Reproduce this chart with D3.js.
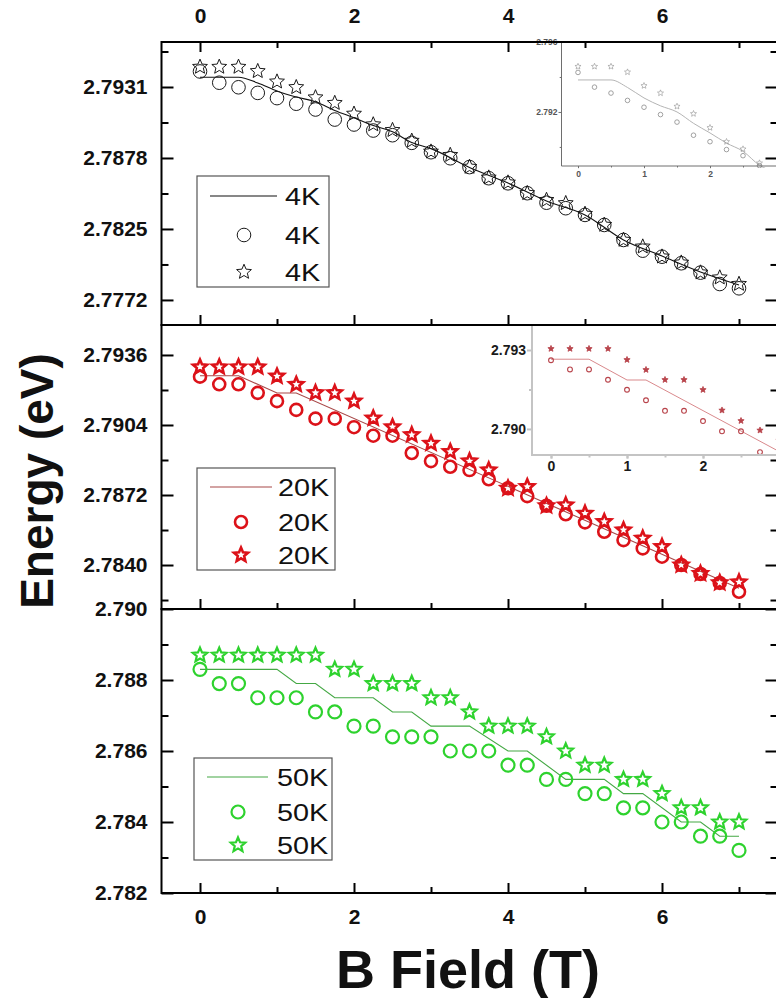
<!DOCTYPE html>
<html><head><meta charset="utf-8">
<script src="https://cdn.jsdelivr.net/npm/d3@7"></script>
<style>body{margin:0;background:#fff}svg{display:block}text{font-family:"Liberation Sans",Arial,sans-serif}</style>
</head><body><svg id="c" width="776" height="998"></svg>
<script>
// ---------------- DATA ----------------
const fieldT = [0,0.25,0.5,0.75,1,1.25,1.5,1.75,2,2.25,2.5,2.75,3,3.25,3.5,3.75,4,4.25,4.5,4.75,5,5.25,5.5,5.75,6,6.25,6.5,6.75,7];

const e4KCircle = [2.79426,2.79342,2.79308,2.79266,2.79227,2.79185,2.79142,2.79067,2.79030,2.78985,2.78950,2.78893,2.78823,2.78778,2.78712,2.78629,2.78591,2.78517,2.78446,2.78405,2.78355,2.78280,2.78168,2.78088,2.78043,2.77994,2.77924,2.77839,2.77807];
const e4KStar   = [2.79460,2.79460,2.79460,2.79428,2.79350,2.79308,2.79232,2.79190,2.79110,2.79030,2.78988,2.78908,2.78827,2.78802,2.78713,2.78633,2.78596,2.78517,2.78466,2.78442,2.78362,2.78280,2.78168,2.78118,2.78043,2.77998,2.77924,2.77887,2.77839];
const fit4KB = [0,0.5,0.75,1,1.25,1.5,1.75,2,2.25,2.5,2.75,3,3.5,4,4.5,5,5.5,6,6.5,7];
const fit4KE = [2.79383,2.79383,2.79340,2.79280,2.79235,2.79200,2.79135,2.79080,2.79022,2.78975,2.78895,2.78850,2.78709,2.78593,2.78459,2.78355,2.78168,2.78048,2.77929,2.77832];

const e20KCircle = [2.79261,2.79226,2.79226,2.79187,2.79149,2.79109,2.79069,2.79069,2.79030,2.78991,2.78991,2.78912,2.78875,2.78849,2.78834,2.78792,2.78751,2.78715,2.78671,2.78632,2.78595,2.78552,2.78514,2.78476,2.78438,2.78400,2.78359,2.78318,2.78278];
const e20KStar   = [2.79305,2.79305,2.79305,2.79305,2.79263,2.79225,2.79187,2.79187,2.79149,2.79071,2.79031,2.78995,2.78956,2.78918,2.78875,2.78834,2.78751,2.78758,2.78671,2.78674,2.78636,2.78598,2.78560,2.78522,2.78484,2.78400,2.78361,2.78319,2.78322];
const fit20KB = [0,0.5,1,1.25,7];
const fit20KE = [2.79265,2.79265,2.79186,2.79186,2.78294];

const e50KCircle = [2.7883,2.7879,2.7879,2.7875,2.7875,2.7875,2.7871,2.7871,2.7867,2.7867,2.7864,2.7864,2.7864,2.7860,2.7860,2.7860,2.7856,2.7856,2.7852,2.7852,2.7848,2.7848,2.7844,2.7844,2.7840,2.7840,2.7836,2.7836,2.7832];
const e50KStar   = [2.7887,2.7887,2.7887,2.7887,2.7887,2.7887,2.7887,2.7883,2.7883,2.7879,2.7879,2.7879,2.7875,2.7875,2.7871,2.7867,2.7867,2.7867,2.7864,2.7860,2.7856,2.7856,2.7852,2.7852,2.7848,2.7844,2.7844,2.7840,2.7840];
const fit50KB = [0,1,1.25,1.5,1.75,2.25,2.5,2.75,3,3.5,4,4.25,4.75,5.25,5.5,5.75,6.25,6.5,6.75,7];
const fit50KE = [2.7883,2.7883,2.7879,2.7879,2.7875,2.7875,2.7871,2.7871,2.7867,2.7867,2.7860,2.7860,2.7852,2.7852,2.7848,2.7848,2.7840,2.7840,2.7836,2.7836];

const xMajorTicks = [0,2,4,6];
const xMinorTicks = [1,3,5,7];
const p1Major = [2.7772,2.7825,2.7878,2.7931];
const p1Minor = [2.77985,2.78515,2.79045,2.79575];
const p2Major = [2.7840,2.7872,2.7904,2.7936];
const p2Minor = [2.7824,2.7856,2.7888,2.7920];
const p3Major = [2.782,2.784,2.786,2.788,2.790];
const p3Minor = [2.783,2.785,2.787,2.789];
const inset1Major = [2.792,2.796];
const inset1Minor = [2.790,2.794];
const inset2Major = [2.790,2.793];
const inset2Minor = [2.7915];
const insetXLabelled = [0,1,2];
const insetXMajor = [0,1,2,3];
const insetXMinor = [0.5,1.5,2.5];
const legendLabels = ["4K","20K","50K"];

// ---------------- DRAW ----------------
const svg = d3.select("#c");
const FONT = '"Liberation Sans",Arial,sans-serif';
const x = d3.scaleLinear().domain([-0.5,7.5]).range([161.5,777.5]);

function starPath(R){
  const r=R*0.45; let p='';
  for(let i=0;i<10;i++){const a=-Math.PI/2+i*Math.PI/5;const rr=i%2?r:R;
    p+=(i?'L':'M')+(rr*Math.cos(a)).toFixed(2)+','+(rr*Math.sin(a)).toFixed(2);}
  return p+'Z';
}
const zip=(xs,ys)=>xs.map((v,i)=>[v,ys[i]]);

const panels = [
  {y:d3.scaleLinear().domain([2.77533,2.79646]).range([325,42]), top:42,bottom:325,
   circ:e4KCircle, star:e4KStar, fb:fit4KB, fe:fit4KE, major:p1Major, minor:p1Minor, fmt:d3.format('.4f'),
   col:'#1a1a1a', lineCol:'#111', cr:6.8, cw:1, sr:7.8, sw:1, curve:d3.curveMonotoneX, lab:legendLabels[0],
   leg:{x0:197,y0:176,x1:329,y1:287, ly:196, cy:235, sy:272, l0:210,l1:277, tx:285, cx:244}},
  {y:d3.scaleLinear().domain([2.78199,2.79497]).range([609,325]), top:325,bottom:609,
   circ:e20KCircle, star:e20KStar, fb:fit20KB, fe:fit20KE, major:p2Major, minor:p2Minor, fmt:d3.format('.4f'),
   col:'#dc1219', lineCol:'#a84848', cr:6, cw:2.6, sr:7.4, sw:2.6, curve:d3.curveLinear, lab:legendLabels[1],
   leg:{x0:197,y0:468,x1:335,y1:570, ly:487, cy:522, sy:555, l0:210,l1:272, tx:278, cx:241}},
  {y:d3.scaleLinear().domain([2.782,2.790]).range([893,609]), top:609,bottom:893,
   circ:e50KCircle, star:e50KStar, fb:fit50KB, fe:fit50KE, major:p3Major, minor:p3Minor, fmt:d3.format('.3f'),
   col:'#2ed22e', lineCol:'#44a844', cr:6.5, cw:2.2, sr:7.6, sw:2.2, curve:d3.curveLinear, lab:legendLabels[2],
   leg:{x0:194,y0:758,x1:332,y1:860, ly:777, cy:812, sy:845, l0:207,l1:268, tx:277, cx:238}}
];

const dataLayer = svg.append('g');
panels.forEach(p=>{
  const g=dataLayer.append('g');
  g.append('path').datum(zip(p.fb,p.fe))
    .attr('d',d3.line().x(d=>x(d[0])).y(d=>p.y(d[1])).curve(p.curve))
    .attr('fill','none').attr('stroke',p.lineCol).attr('stroke-width',1.1);
  g.selectAll('circle.m').data(zip(fieldT,p.circ)).join('circle')
    .attr('cx',d=>x(d[0])).attr('cy',d=>p.y(d[1])).attr('r',p.cr)
    .attr('fill','none').attr('stroke',p.col).attr('stroke-width',p.cw);
  g.selectAll('path.s').data(zip(fieldT,p.star)).join('path')
    .attr('transform',d=>`translate(${x(d[0])},${p.y(d[1])})`).attr('d',starPath(p.sr))
    .attr('fill','none').attr('stroke',p.col).attr('stroke-width',p.sw).attr('stroke-linejoin','miter');
  // legend
  const L=p.leg, lg=g.append('g');
  lg.append('rect').attr('x',L.x0).attr('y',L.y0).attr('width',L.x1-L.x0).attr('height',L.y1-L.y0)
    .attr('fill','#fff').attr('stroke','#555').attr('stroke-width',1.2);
  lg.append('line').attr('x1',L.l0).attr('x2',L.l1).attr('y1',L.ly).attr('y2',L.ly).attr('stroke',p.lineCol).attr('stroke-width',1.1);
  lg.append('circle').attr('cx',L.cx).attr('cy',L.cy).attr('r',p.cr).attr('fill','none').attr('stroke',p.col).attr('stroke-width',p.cw);
  lg.append('path').attr('transform',`translate(${L.cx},${L.sy})`).attr('d',starPath(p.sr)).attr('fill','none').attr('stroke',p.col).attr('stroke-width',p.sw);
  [L.ly,L.cy,L.sy].forEach(yy=>lg.append('text').attr('transform',`translate(${L.tx},${yy+8.5}) scale(1.2,1)`).text(p.lab)
    .attr('font-size',24).attr('fill','#111'));
});

// ---------------- INSETS ----------------
function inset(cfg){
  const g=svg.append('g');
  const ix=d3.scaleLinear().domain([-0.25,3.25]).range(cfg.xr);
  const iy=d3.scaleLinear().domain(cfg.yd).range([cfg.bottom,cfg.top]);
  g.append('rect').attr('x',cfg.xr[0]).attr('y',cfg.top).attr('width',800-cfg.xr[0]).attr('height',cfg.bottom-cfg.top).attr('fill','#fff');
  const clip='clip'+cfg.id;
  g.append('clipPath').attr('id',clip).append('rect').attr('x',cfg.xr[0]).attr('y',cfg.top).attr('width',800-cfg.xr[0]).attr('height',cfg.bottom-cfg.top+2);
  const dg=g.append('g').attr('clip-path',`url(#${clip})`);
  dg.append('path').datum(zip(cfg.fb,cfg.fe)).attr('d',d3.line().x(d=>ix(d[0])).y(d=>iy(d[1])).curve(cfg.curve))
    .attr('fill','none').attr('stroke',cfg.lineCol).attr('stroke-width',cfg.lw);
  dg.selectAll('circle').data(zip(fieldT,cfg.circ)).join('circle').attr('cx',d=>ix(d[0])).attr('cy',d=>iy(d[1]))
    .attr('r',cfg.mr).attr('fill','none').attr('stroke',cfg.mcol).attr('stroke-width',cfg.mw);
  dg.selectAll('path.s').data(zip(fieldT,cfg.star)).join('path').attr('class','s')
    .attr('transform',d=>`translate(${ix(d[0])},${iy(d[1])})`).attr('d',starPath(cfg.mr+0.9))
    .attr('fill',cfg.starFill).attr('stroke',cfg.mcol).attr('stroke-width',cfg.mw*0.7);
  // axes
  const ax=g.append('g').attr('transform',`translate(${cfg.xr[0]},0)`)
    .call(d3.axisLeft(iy).tickValues(cfg.major).tickSize(cfg.tl).tickPadding(1).tickFormat(d3.format('.3f')));
  const axm=g.append('g').attr('transform',`translate(${cfg.xr[0]},0)`)
    .call(d3.axisLeft(iy).tickValues(cfg.minor).tickSize(cfg.tl*0.6).tickFormat(''));
  const bx=g.append('g').attr('transform',`translate(0,${cfg.bottom})`)
    .call(d3.axisBottom(ix).tickValues(insetXLabelled).tickSize(cfg.tl*0.7).tickPadding(cfg.xpad).tickFormat(d3.format('d')));
  const bx3=g.append('g').attr('transform',`translate(0,${cfg.bottom})`)
    .call(d3.axisBottom(ix).tickValues(insetXMajor).tickSize(cfg.tl*0.7).tickFormat(''));
  const bxm=g.append('g').attr('transform',`translate(0,${cfg.bottom})`)
    .call(d3.axisBottom(ix).tickValues(insetXMinor).tickSize(cfg.tl*0.5).tickFormat(''));
  [ax,axm,bx,bx3,bxm].forEach(a=>{a.select('.domain').remove();a.selectAll('line').attr('stroke',cfg.axcol).attr('stroke-width',cfg.aw);
    a.selectAll('text').attr('font-family',FONT).attr('font-size',cfg.fs).attr('font-weight','bold').attr('fill',cfg.tcol);});
  g.append('path').attr('d',`M${cfg.xr[0]},${cfg.top}V${cfg.bottom}H800`).attr('fill','none').attr('stroke',cfg.axcol).attr('stroke-width',cfg.aw);
  return g;
}
inset({id:1, xr:[561.5,792.5], yd:[2.78891,2.796], top:42, bottom:166,
  fb:fit4KB, fe:fit4KE, circ:e4KCircle, star:e4KStar, curve:d3.curveMonotoneX,
  lineCol:'#b4b4b4', lw:1, mcol:'#8a8a8a', mr:2.3, mw:0.8, starFill:'none',
  major:inset1Major, minor:inset1Minor, tl:3, xpad:3, fs:8.5, axcol:'#6e6e6e', aw:1, tcol:'#555'});
inset({id:2, xr:[532,798], yd:[2.78901,2.79395], top:325, bottom:455,
  fb:fit20KB, fe:fit20KE, circ:e20KCircle, star:e20KStar, curve:d3.curveLinear,
  lineCol:'#d9898c', lw:1, mcol:'#b8434a', mr:2.4, mw:1.1, starFill:'#b8434a',
  major:inset2Major, minor:inset2Minor, tl:5, xpad:3, fs:14, axcol:'#c4c4c4', aw:2, tcol:'#1a1a1a'});

// ---------------- MAIN AXES ----------------
const axLayer=svg.append('g');
function styleAxis(a,fs){a.select('.domain').remove();a.selectAll('line').attr('stroke','#000').attr('stroke-width',2);
  a.selectAll('text').attr('font-family',FONT).attr('font-size',fs).attr('font-weight','bold').attr('fill','#111');}
panels.forEach((p,i)=>{
  styleAxis(axLayer.append('g').attr('transform','translate(161.5,0)')
    .call(d3.axisLeft(p.y).tickValues(p.major).tickSize(-12).tickPadding(14).tickFormat(p.fmt)),21);
  styleAxis(axLayer.append('g').attr('transform','translate(161.5,0)')
    .call(d3.axisLeft(p.y).tickValues(p.minor).tickSize(-7).tickFormat('')),21);
  styleAxis(axLayer.append('g').attr('transform','translate(777.5,0)')
    .call(d3.axisRight(p.y).tickValues(p.major).tickSize(-12).tickFormat('')),21);
  styleAxis(axLayer.append('g').attr('transform','translate(777.5,0)')
    .call(d3.axisRight(p.y).tickValues(p.minor).tickSize(-7).tickFormat('')),21);
  styleAxis(axLayer.append('g').attr('transform',`translate(0,${p.bottom})`)
    .call(d3.axisBottom(x).tickValues(xMajorTicks).tickSize(-10).tickPadding(i===2?16:0).tickFormat(i===2?d3.format('d'):'')),21);
  styleAxis(axLayer.append('g').attr('transform',`translate(0,${p.bottom})`)
    .call(d3.axisBottom(x).tickValues(xMinorTicks).tickSize(-6).tickFormat('')),21);
  axLayer.append('rect').attr('x',161.5).attr('y',p.top).attr('width',616).attr('height',p.bottom-p.top)
    .attr('fill','none').attr('stroke','#000').attr('stroke-width',2);
});
styleAxis(axLayer.append('g').attr('transform','translate(0,42)')
  .call(d3.axisTop(x).tickValues(xMajorTicks).tickSize(-10).tickPadding(19).tickFormat(d3.format('d'))),21);
styleAxis(axLayer.append('g').attr('transform','translate(0,42)')
  .call(d3.axisTop(x).tickValues(xMinorTicks).tickSize(-6).tickFormat('')),21);

svg.append('text').attr('transform','translate(53,481) rotate(-90)').attr('text-anchor','middle')
  .attr('font-size',46).attr('font-weight','bold').attr('fill','#111').text('Energy (eV)');
svg.append('text').attr('x',468).attr('y',988).attr('text-anchor','middle')
  .attr('font-size',54).attr('font-weight','bold').attr('fill','#111').text('B Field (T)');
</script></body></html>
